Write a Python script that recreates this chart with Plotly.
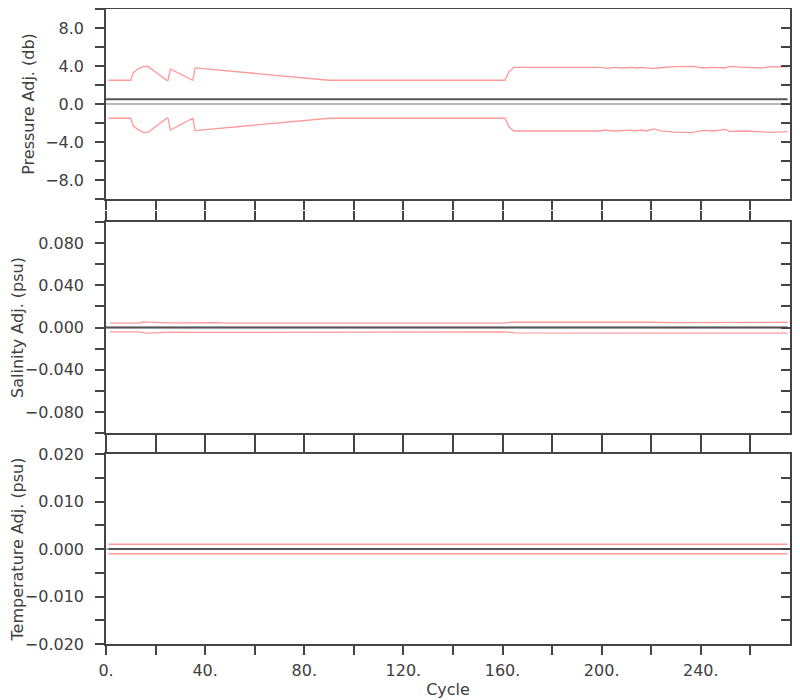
import plotly.graph_objects as go

# ---------------- data ----------------
# Pressure panel
pres_cycle = [0, 275]
pres_adj = [0.5, 0.5]

pres_up_cycle = [1, 10, 11, 13, 15, 17, 24.5, 25, 26, 35, 36, 90, 161, 162.6, 164.6,
                 199.6, 202.3, 205, 209, 211.7, 214.4, 216.4, 221.1, 222.5, 229.2, 237.3,
                 240.7, 245, 250.1, 251.4, 258, 264.2, 268.3, 275]
pres_up = [2.5, 2.5, 3.3, 3.7, 3.95, 3.95, 2.5, 2.5, 3.7, 2.5, 3.8, 2.5, 2.5, 3.4, 3.86,
           3.86, 3.75, 3.86, 3.79, 3.86, 3.79, 3.86, 3.72, 3.79, 3.93, 3.96,
           3.79, 3.86, 3.79, 3.96, 3.86, 3.79, 3.93, 3.9]

pres_lo_cycle = [1, 10, 11, 13, 15, 17, 24.5, 25, 26, 35, 36, 90, 161, 162.6, 164.6,
                 199.6, 200.9, 205, 211.7, 213.5, 215.8, 218, 221.1, 224, 229.2, 236,
                 241.3, 245, 250.1, 251.4, 258, 268.3, 275]
pres_lo = [-1.5, -1.5, -2.3, -2.7, -2.98, -2.98, -1.5, -1.5, -2.74, -1.5, -2.8, -1.5, -1.5,
           -2.4, -2.84, -2.84, -2.74, -2.84, -2.74, -2.84, -2.74, -2.84, -2.63, -2.84,
           -2.95, -3.02, -2.77, -2.84, -2.67, -2.88, -2.84, -2.98, -2.91]

# Salinity panel
sal_cycle = [0, 275]
sal_adj = [0.0, 0.0]
sal_up_cycle = [1.6, 13, 15, 17.7, 21.8, 27, 35, 45, 48.7, 161, 163, 199, 213, 220, 229, 250, 275]
sal_up = [0.0041, 0.0041, 0.0053, 0.0053, 0.0047, 0.0044, 0.0047, 0.0047, 0.0041, 0.0041,
          0.005, 0.0053, 0.0053, 0.005, 0.0047, 0.005, 0.005]
sal_lo_cycle = [1.6, 13, 16.4, 20.4, 27, 35, 45, 51, 161, 165, 199, 213, 220, 229, 250, 275]
sal_lo = [-0.0041, -0.0041, -0.0053, -0.0047, -0.0044, -0.0047, -0.0047, -0.0041, -0.0041,
          -0.005, -0.0053, -0.005, -0.005, -0.0053, -0.0053, -0.0053]

# Temperature panel
temp_cycle = [1, 275]
temp_adj = [0.0, 0.0]
temp_up = [0.001, 0.001]
temp_lo = [-0.001, -0.001]

# axes / ticks
x_tickvals = [0, 20, 40, 60, 80, 100, 120, 140, 160, 180, 200, 220, 240, 260]
x_ticktext = ["0.", "", "40.", "", "80.", "", "120.", "", "160.", "", "200.", "", "240.", ""]

p_tickvals = [-10, -8, -6, -4, -2, 0, 2, 4, 6, 8, 10]
p_ticktext = ["", "−8.0", "", "−4.0", "", "0.0", "", "4.0", "", "8.0", ""]
s_tickvals = [-0.1, -0.08, -0.06, -0.04, -0.02, 0, 0.02, 0.04, 0.06, 0.08, 0.1]
s_ticktext = ["", "−0.080", "", "−0.040", "", "0.000", "", "0.040", "", "0.080", ""]
t_tickvals = [-0.02, -0.015, -0.01, -0.005, 0, 0.005, 0.01, 0.015, 0.02]
t_ticktext = ["−0.020", "", "−0.010", "", "0.000", "", "0.010", "", "0.020"]

RED = "#ff9a9a"
DARK = "#555555"
GRAY = "#a0a0a0"
AXC = "#444444"
FONT = "DejaVu Sans"
TXT = "#404040"

fig = go.Figure()

panels = [
    ("x", "y", pres_cycle, pres_adj, pres_up_cycle, pres_up, pres_lo_cycle, pres_lo),
    ("x2", "y2", sal_cycle, sal_adj, sal_up_cycle, sal_up, sal_lo_cycle, sal_lo),
    ("x3", "y3", temp_cycle, temp_adj, temp_cycle, temp_up, temp_cycle, temp_lo),
]
for xa, ya, c, adj, uc, up, lc, lo in panels:
    fig.add_trace(go.Scatter(x=[0, 275], y=[0, 0], mode="lines", xaxis=xa, yaxis=ya,
                             line=dict(color=GRAY, width=1.5), showlegend=False, hoverinfo="skip"))
    fig.add_trace(go.Scatter(x=c, y=adj, mode="lines", xaxis=xa, yaxis=ya,
                             line=dict(color=DARK, width=2), showlegend=False))
    fig.add_trace(go.Scatter(x=uc, y=up, mode="lines", xaxis=xa, yaxis=ya,
                             line=dict(color=RED, width=1.3), showlegend=False))
    fig.add_trace(go.Scatter(x=lc, y=lo, mode="lines", xaxis=xa, yaxis=ya,
                             line=dict(color=RED, width=1.3), showlegend=False))

# invisible traces for right-side overlay axes
for xa, ya in [("x", "y4"), ("x2", "y5"), ("x3", "y6")]:
    fig.add_trace(go.Scatter(x=[0], y=[0], mode="markers", xaxis=xa, yaxis=ya,
                             marker=dict(opacity=0), showlegend=False, hoverinfo="skip"))

H = 635.0
doms = [
    [(644 - 199) / H, 1.0],
    [(644 - 433) / H, (644 - 222) / H],
    [0.0, (644 - 454) / H],
]
ranges = [[-10, 10], [-0.1, 0.1], [-0.02, 0.02]]
tvals = [p_tickvals, s_tickvals, t_tickvals]
ttext = [p_ticktext, s_ticktext, t_ticktext]
titles = ["Pressure Adj. (db)", "Salinity Adj. (psu)", "Temperature Adj. (psu)"]

tickfont = dict(family=FONT, size=16, color=TXT)
titlefont = dict(family=FONT, size=16, color=TXT)
layout = dict(
    width=800, height=700,
    # the page body has an 8px default margin, so shift the plot area by that amount
    margin=dict(l=98, r=18, t=1, b=64, autoexpand=False),
    paper_bgcolor="white", plot_bgcolor="white",
    showlegend=False,
    font=dict(family=FONT, size=16, color=TXT),
)

for i in range(3):
    xn = "xaxis" if i == 0 else f"xaxis{i+1}"
    yn = "yaxis" if i == 0 else f"yaxis{i+1}"
    yref = "y" if i == 0 else f"y{i+1}"
    layout[xn] = dict(
        domain=[0, 1], anchor=yref, range=[0, 276], automargin=False,
        tickmode="array", tickvals=x_tickvals, ticktext=x_ticktext,
        showticklabels=(i == 2), ticks="outside", ticklen=9, tickwidth=1.5, tickcolor=AXC,
        showline=True, linecolor=AXC, linewidth=1.5, mirror="ticks",
        showgrid=False, zeroline=False, tickfont=tickfont, ticklabelstandoff=2,
        title=dict(text="Cycle", font=dict(family=FONT, size=16, color=TXT), standoff=5) if i == 2 else None,
    )
    layout[yn] = dict(
        domain=doms[i], anchor="x" if i == 0 else f"x{i+1}", range=ranges[i], automargin=False,
        tickmode="array", tickvals=tvals[i], ticktext=ttext[i],
        ticks="outside", ticklen=9, tickwidth=1.5, tickcolor=AXC,
        showline=True, linecolor=AXC, linewidth=1.5, mirror=True,
        showgrid=False, zeroline=False, tickfont=tickfont, ticklabelstandoff=8,
        title=dict(text=titles[i], font=titlefont, standoff=7),
    )
    on = f"yaxis{i+4}"
    layout[on] = dict(
        overlaying=yref, side="right", anchor="x" if i == 0 else f"x{i+1}", range=ranges[i],
        automargin=False,
        tickmode="array", tickvals=tvals[i][1:-1],
        ticks="inside", ticklen=9, tickwidth=1.5, tickcolor=AXC,
        showticklabels=False, showline=False, showgrid=False, zeroline=False,
    )

fig.update_layout(**layout)
fig.write_html("out.html")
